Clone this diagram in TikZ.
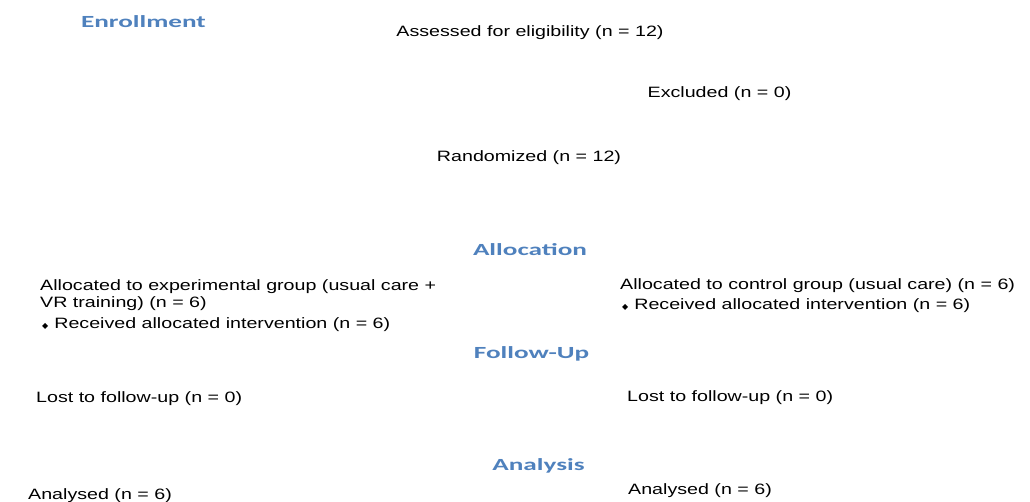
\documentclass[tikz,border=0pt]{standalone}
\usepackage{fontspec}
\setmainfont{Liberation Sans}[FakeStretch=1.31]
\newfontfamily\headfont{Carlito}[FakeStretch=1.6]
\newfontfamily\symfont{DejaVu Sans}
\definecolor{headblue}{RGB}{79, 129, 189}
\newcommand{\bul}{\hspace{2pt}{\fontsize{8}{8}\symfont ◆}\hspace{6pt}}
\usetikzlibrary{positioning}

\begin{document}
\begin{tikzpicture}[x=1pt, y=-1pt,
  every node/.style={inner sep=0pt},
  txt/.style={font=\fontsize{15}{17}\selectfont, anchor=base west},
  ctxt/.style={font=\fontsize{15}{17}\selectfont, anchor=base},
  stage/.style={font=\headfont\bfseries\fontsize{17}{19}\selectfont, text=headblue, anchor=base}]
  \useasboundingbox (0, 0) rectangle (1030, 502);

  % Stage headings
  \node[stage] (enrol) at (143.5, 28) {Enrollment};
  \node[stage] (alloc) at (530, 256) {Allocation};
  \node[stage] (follow) at (531.5, 359) {Follow-Up};
  \node[stage] (analysis) at (538.5, 470) {Analysis};

  % Enrollment
  \node[ctxt] (assessed) at (530, 37) {Assessed for eligibility (n = 12)};
  \node[ctxt] (excluded) at (719.5, 98) {Excluded (n = 0)};
  \node[ctxt] (random) at (529, 162) {Randomized (n = 12)};

  % Allocation
  \node[txt] (expA) at (40, 291) {Allocated to experimental group (usual care +};
  \node[txt] (expB) at (40, 308) {VR training) (n = 6)};
  \node[txt] (expC) at (40, 329) {\bul Received allocated intervention (n = 6)};
  \node[txt] (conA) at (620, 290) {Allocated to control group (usual care) (n = 6)};
  \node[txt] (conB) at (620, 309) {\bul Received allocated intervention (n = 6)};

  % Follow-up
  \node[txt] (lostE) at (36, 402) {Lost to follow-up (n = 0)};
  \node[txt] (lostC) at (627, 401) {Lost to follow-up (n = 0)};

  % Analysis
  \node[txt] (anaE) at (28, 499) {Analysed (n = 6)};
  \node[txt] (anaC) at (628, 494) {Analysed (n = 6)};
\end{tikzpicture}
\end{document}
